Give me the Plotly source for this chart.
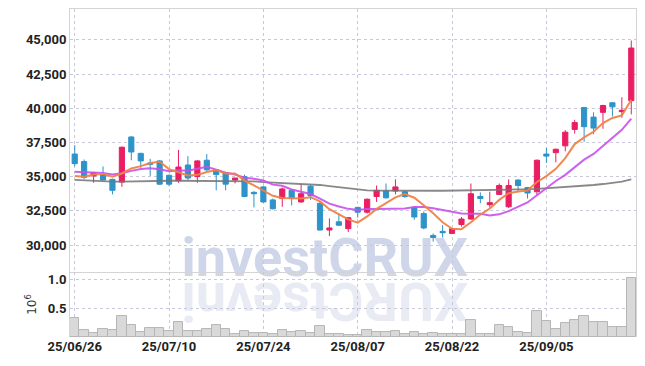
import plotly.graph_objects as go

dates = ["25/06/26","25/06/27","25/06/30","25/07/01","25/07/02","25/07/03","25/07/04","25/07/07","25/07/08","25/07/09",
         "25/07/10","25/07/11","25/07/14","25/07/15","25/07/16","25/07/17","25/07/18","25/07/21","25/07/22","25/07/23",
         "25/07/24","25/07/25","25/07/28","25/07/29","25/07/30","25/07/31","25/08/01","25/08/04","25/08/05","25/08/06",
         "25/08/07","25/08/08","25/08/11","25/08/12","25/08/13","25/08/14","25/08/18","25/08/19","25/08/20","25/08/21",
         "25/08/22","25/08/25","25/08/26","25/08/27","25/08/28","25/08/29","25/09/01","25/09/02","25/09/03","25/09/04",
         "25/09/05","25/09/08","25/09/09","25/09/10","25/09/11","25/09/12","25/09/15","25/09/16","25/09/17","25/09/18"]

open_ = [36650,36100,35050,35150,34800,34600,37900,36700,36000,36150,
         35100,34700,35850,35000,36200,35500,35300,34750,35000,33850,
         34250,33300,33400,34000,33150,34300,33050,31100,31700,31200,
         32750,32400,33550,33950,33950,33900,32750,32300,30700,31000,
         30850,31500,31900,33550,32950,33700,32800,34750,34200,33900,
         36650,36750,37250,38450,40050,39350,39700,40400,39750,40550]
high = [37300,36250,35350,35750,34850,37200,37950,36750,36300,36200,
        35150,36950,36500,36200,36650,35550,35350,34900,35150,33950,
        34300,33400,34200,34050,34450,34400,33150,31950,32300,32050,
        32800,33400,34350,34500,34800,33950,32800,32450,30850,31450,
        31250,32050,34500,33850,33900,34500,34800,34800,34250,36250,
        37100,37050,38400,39150,40100,39700,40250,40450,40800,44950]
low = [35750,34800,34550,34750,33700,34250,36200,35650,35050,34400,
       34300,34550,34750,34550,35400,34000,34000,34500,33500,32750,
       33100,32600,32800,32900,33100,33300,31050,30650,31400,30950,
       32000,32300,33150,33400,33700,33450,31850,31150,30250,30550,
       30800,31350,31850,33050,32750,33650,32700,33850,33400,33650,
       36000,36050,36850,38150,37550,38100,38500,39400,39300,39550]
close = [35950,34950,35300,34750,34000,37150,36800,36150,35900,34450,
         34450,35700,34900,36150,35500,35150,34450,34900,33550,33750,
         33150,32650,34100,33400,33750,33600,31100,31250,31450,32000,
         32400,33350,34000,33450,34250,33550,32050,31250,30550,30900,
         31200,31900,33750,33400,33100,34350,34350,34350,33800,36200,
         36500,37000,38250,38950,38650,38550,40200,40100,39850,44400]

ma5 = [35050,35000,35150,35200,34990,35230,35600,35770,36000,36090,
       35550,35330,35080,35130,35340,35480,35230,35230,34710,34360,
       33960,33600,33440,33410,33410,33500,33190,32620,32230,31880,
       31640,32090,32640,33040,33490,33720,33460,32910,32330,31660,
       31190,31160,31660,32230,32670,33300,33790,33910,33990,34610,
       35040,35570,36350,37380,37870,38280,38920,39290,39470,40620]
ma10 = [35360,35340,35310,35270,35150,35250,35420,35560,35620,35540,
        35390,35465,35425,35565,35715,35515,35280,35155,34920,34850,
        34720,34415,34335,34060,33885,33730,33395,33030,32820,32645,
        32570,32640,32630,32635,32685,32680,32775,32775,32685,32575,
        32455,32310,32285,32280,32165,32245,32475,32785,33110,33640,
        34170,34680,35130,35685,36240,36660,37245,37820,38425,39245]
ma60 = [34760,34720,34670,34640,34630,34640,34660,34680,34690,34700,
        34700,34700,34700,34700,34700,34700,34700,34700,34690,34660,
        34600,34570,34540,34510,34480,34450,34390,34310,34220,34120,
        34030,33990,33980,33970,33970,33970,33970,33970,33970,33970,
        33980,33980,33990,33990,34000,34010,34030,34050,34080,34110,
        34150,34190,34230,34280,34330,34390,34460,34540,34640,34800]

volume = [328000,121000,69000,138000,121000,362000,207000,86000,155000,155000,
          103000,259000,103000,103000,138000,207000,138000,52000,103000,69000,
          69000,52000,121000,86000,103000,69000,195000,52000,52000,28000,
          40000,121000,91000,91000,109000,57000,86000,57000,74000,57000,
          52000,52000,293000,52000,52000,207000,172000,91000,69000,448000,
          276000,138000,241000,293000,362000,259000,259000,172000,172000,1017000]

price_ticks = [30000, 32500, 35000, 37500, 40000, 42500, 45000]
vol_ticks = [500000, 1000000]
vol_ticktext = ["0.5", "1.0"]
date_ticks = [dates[i] for i in range(0, 60, 10)]

UP = "#e91e63"
DOWN = "#2e93c8"
GRID = "#c8c8da"
AXLINE = "#d4d4d4"
tickfont = dict(family="Roboto, sans-serif", size=13, color="#222222", weight="bold")

fig = go.Figure()

fig.add_trace(go.Candlestick(
    x=dates, open=open_, high=high, low=low, close=close,
    increasing=dict(line=dict(color=UP, width=1), fillcolor=UP),
    decreasing=dict(line=dict(color=DOWN, width=1), fillcolor=DOWN),
    whiskerwidth=0, xaxis="x", yaxis="y", showlegend=False))

fig.add_trace(go.Scatter(x=dates, y=ma60, mode="lines", line=dict(color="rgba(115,115,115,0.85)", width=1.8),
                         xaxis="x", yaxis="y", showlegend=False))
fig.add_trace(go.Scatter(x=dates, y=ma10, mode="lines", line=dict(color="rgba(200,80,235,0.9)", width=2),
                         xaxis="x", yaxis="y", showlegend=False))
fig.add_trace(go.Scatter(x=dates, y=ma5, mode="lines", line=dict(color="rgba(240,130,70,0.95)", width=2),
                         xaxis="x", yaxis="y", showlegend=False))

fig.add_trace(go.Bar(x=dates, y=volume, marker=dict(color="#d9d9d9", line=dict(color="#b5b5b5", width=1)),
                     xaxis="x2", yaxis="y2", showlegend=False))

# watermark (text and its reflection)
fig.add_shape(type="rect", xref="paper", yref="paper", x0=0.2, x1=0.7, y0=0.179, y1=0.329,
              line=dict(width=0), fillcolor="rgba(0,0,0,0)", layer="below",
              label=dict(text="investCRUX", textposition="middle center",
                         font=dict(family="Roboto", size=54, color="#d0d6e9", weight="bold")))
fig.add_shape(type="rect", xref="paper", yref="paper", x0=0.2, x1=0.7, y0=0.02, y1=0.17,
              line=dict(width=0), fillcolor="rgba(0,0,0,0)", layer="below",
              label=dict(text="XURCtsevni", textposition="middle center", textangle=180,
                         font=dict(family="Roboto", size=54, color="#e8ebf3", weight="bold")))

fig.update_layout(
    width=637, height=358,
    margin=dict(l=62, r=9, t=1, b=29, autoexpand=False),
    paper_bgcolor="white", plot_bgcolor="rgba(0,0,0,0)",
    bargap=0, boxgap=0.22,
    xaxis=dict(domain=[0, 1], anchor="y", type="category", range=[-0.5, 59.5],
               rangeslider=dict(visible=False), showticklabels=False,
               tickvals=date_ticks, showgrid=True, gridcolor=GRID, griddash="dot", gridwidth=1,
               showline=True, linecolor=AXLINE, mirror=True, ticks="", automargin=False),
    xaxis2=dict(domain=[0, 1], anchor="y2", type="category", range=[-0.5, 59.5], matches="x",
                tickvals=date_ticks, ticktext=date_ticks, showgrid=True, gridcolor=GRID, griddash="dot",
                tickfont=tickfont, ticks="", ticklen=0, showline=False, automargin=False),
    yaxis=dict(domain=[0.198, 1], anchor="x", range=[28026, 47252], tickvals=price_ticks,
               tickformat=",", tickfont=tickfont, showgrid=True, gridcolor=GRID, griddash="dot",
               showline=True, linecolor=AXLINE, mirror=True, ticks="", zeroline=False, automargin=False),
    yaxis2=dict(domain=[0, 0.198], anchor="x2", range=[0, 1121000], tickvals=vol_ticks,
                ticktext=vol_ticktext, tickfont=tickfont, showgrid=True, gridcolor=GRID, griddash="dot",
                showline=True, linecolor=AXLINE, mirror=True, ticks="", zeroline=False, automargin=False,
                title=dict(text="10<sup>6</sup>", font=dict(family="DejaVu Sans", size=12, color="#333333"),
                           standoff=8)),
    font=dict(family="Roboto"),
)

fig.write_html("out.html")
